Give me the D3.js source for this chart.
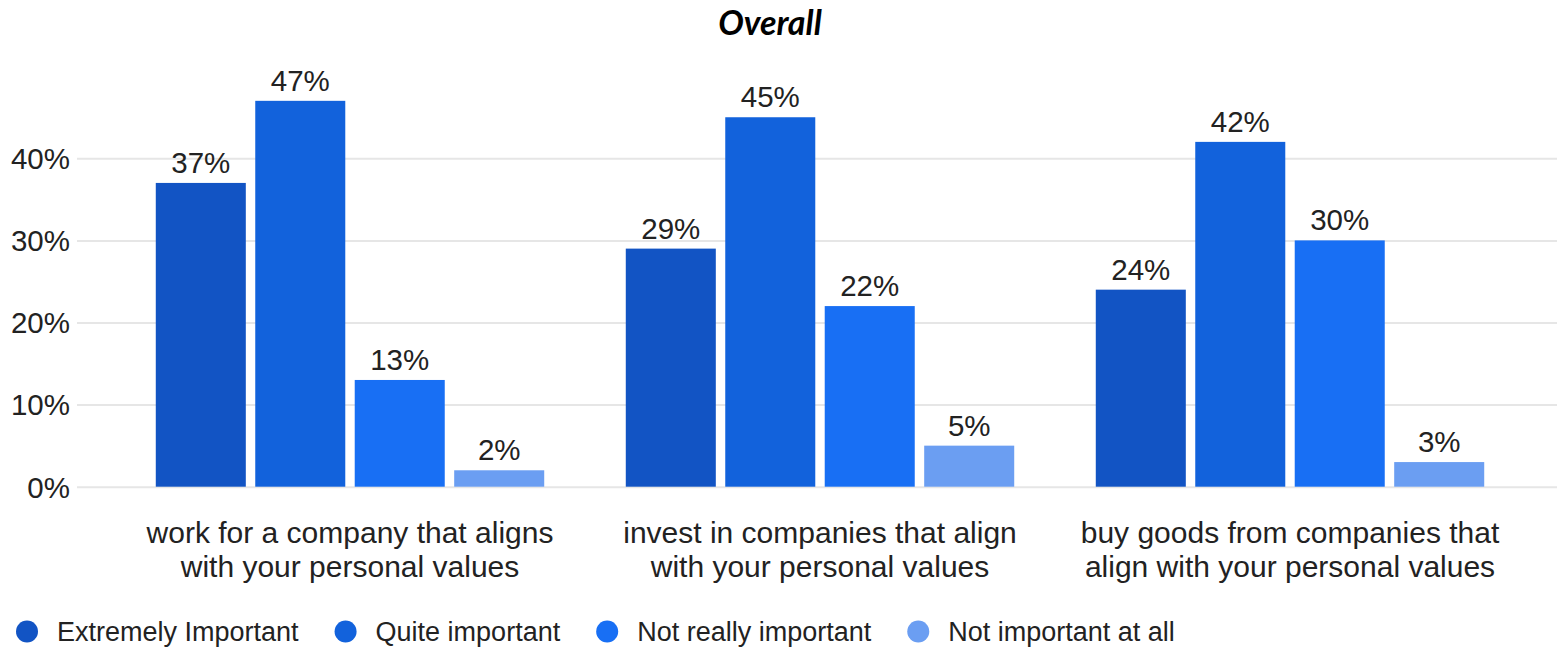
<!DOCTYPE html>
<html>
<head>
<meta charset="utf-8">
<script src="https://cdn.jsdelivr.net/npm/d3@7"></script>
<style>
  html, body { margin: 0; padding: 0; background: #fff; }
  svg { display: block; }
</style>
</head>
<body>
<svg id="chart" width="1557" height="647"></svg>
<script>
// Survey answers: share of respondents per importance level
const categories = [
  ["work for a company that aligns", "with your personal values"],
  ["invest in companies that align", "with your personal values"],
  ["buy goods from companies that", "align with your personal values"]
];
const seriesNames = ["Extremely Important", "Quite important", "Not really important", "Not important at all"];
const extremelyImportant = [37, 29, 24];
const quiteImportant     = [47, 45, 42];
const notReallyImportant = [13, 22, 30];
const notImportantAtAll  = [2, 5, 3];
const yTicks = [0, 10, 20, 30, 40];
const title = "Overall";

const seriesValues = [extremelyImportant, quiteImportant, notReallyImportant, notImportantAtAll];
const colors = ["#1254c4", "#1262dc", "#186ff4", "#6b9ef2"];

const svg = d3.select("#chart");
const W = 1557, H = 647;
const textColor = "#222";
const font = "'Liberation Sans', Arial, sans-serif";
const gridLeft = 77;

// scales
const catIdx = d3.range(categories.length);
const x0 = d3.scaleBand().domain(catIdx).range([115, 1525]).paddingInner(0).paddingOuter(0);
const x1 = d3.scaleBand().domain(d3.range(seriesNames.length))
  .range([0, x0.bandwidth()]).paddingInner(0.095).paddingOuter(0.41);
const y = d3.scaleLinear().domain([0, 50]).range([486.7, 76.2]);

// title
svg.append("text")
  .attr("x", 770).attr("y", 35)
  .attr("text-anchor", "middle")
  .attr("font-family", "Lato, sans-serif")
  .attr("font-style", "italic")
  .attr("font-weight", 700)
  .attr("font-size", 34)
  .attr("fill", "#000")
  .text(title);

// gridlines + y tick labels
const yAxis = d3.axisLeft(y).tickValues(yTicks).tickSize(-(W - gridLeft)).tickFormat(d => d + "%");
const gy = svg.append("g").attr("transform", `translate(${gridLeft},0)`).call(yAxis);
gy.select(".domain").remove();
gy.selectAll(".tick line").attr("stroke", "#e6e6e6").attr("stroke-width", 2);
gy.selectAll(".tick text")
  .attr("x", -7)
  .attr("dy", "0.35em")
  .attr("font-family", font)
  .attr("font-size", 29.5)
  .attr("fill", textColor);

// bars
const groups = svg.append("g").selectAll("g")
  .data(catIdx)
  .join("g")
  .attr("transform", i => `translate(${x0(i)},0)`);

groups.selectAll("rect")
  .data(i => seriesValues.map((s, k) => ({ k, v: s[i] })))
  .join("rect")
  .attr("x", d => x1(d.k))
  .attr("width", x1.bandwidth())
  .attr("y", d => y(d.v))
  .attr("height", d => y(0) - y(d.v))
  .attr("fill", d => colors[d.k]);

groups.selectAll("text.val")
  .data(i => seriesValues.map((s, k) => ({ k, v: s[i] })))
  .join("text")
  .attr("class", "val")
  .attr("x", d => x1(d.k) + x1.bandwidth() / 2)
  .attr("y", d => y(d.v) - 10)
  .attr("text-anchor", "middle")
  .attr("font-family", font)
  .attr("font-size", 29.5)
  .attr("fill", textColor)
  .text(d => d.v + "%");

// category labels (two lines each)
const cat = svg.append("g").selectAll("text")
  .data(catIdx)
  .join("text")
  .attr("x", i => x0(i) + x0.bandwidth() / 2)
  .attr("y", 543)
  .attr("text-anchor", "middle")
  .attr("font-family", font)
  .attr("font-size", 30)
  .attr("fill", textColor);
cat.selectAll("tspan")
  .data(i => categories[i])
  .join("tspan")
  .attr("x", function () { return d3.select(this.parentNode).attr("x"); })
  .attr("dy", (d, j) => j === 0 ? 0 : 34)
  .text(d => d);

// legend
const legend = svg.append("g");
let lx = 27;
seriesNames.forEach((name, k) => {
  legend.append("circle").attr("cx", lx).attr("cy", 631.5).attr("r", 11).attr("fill", colors[k]);
  const t = legend.append("text")
    .attr("x", lx + 30).attr("y", 631.5)
    .attr("dy", "0.35em")
    .attr("font-family", font)
    .attr("font-size", 27)
    .attr("fill", textColor)
    .text(name);
  lx += 30 + t.node().getComputedTextLength() + 47;
});
</script>
</body>
</html>
